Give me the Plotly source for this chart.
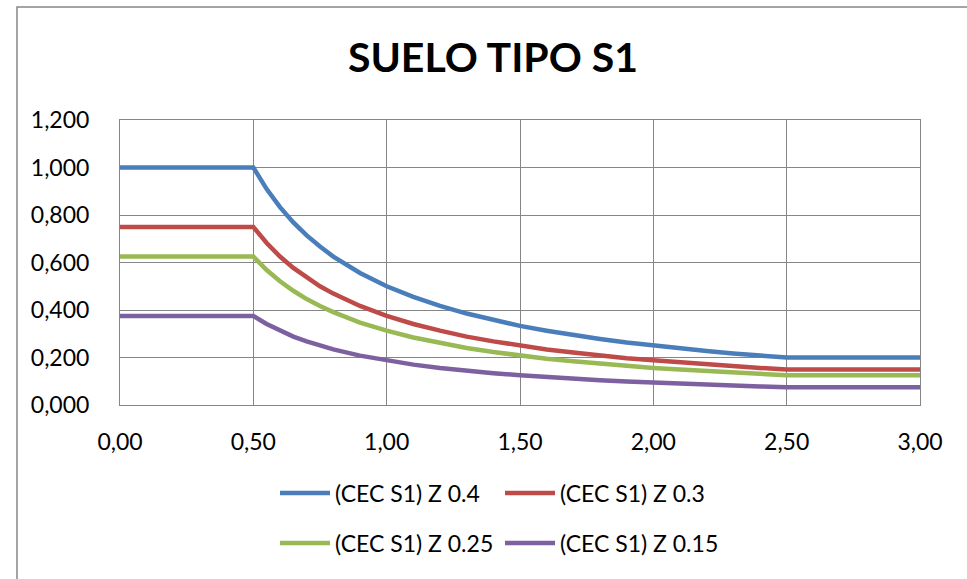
import plotly.graph_objects as go

# Periods T (s)
T = [0.00, 0.50, 0.55, 0.60, 0.65, 0.70, 0.75, 0.80, 0.90, 1.00, 1.10, 1.20, 1.30,
     1.40, 1.50, 1.60, 1.70, 1.80, 1.90, 2.00, 2.10, 2.20, 2.30, 2.40, 2.50, 3.00]

z040 = [1.000, 1.000, 0.909, 0.833, 0.769, 0.714, 0.667, 0.625, 0.556, 0.500, 0.455, 0.417, 0.385,
        0.357, 0.333, 0.313, 0.294, 0.278, 0.263, 0.250, 0.238, 0.227, 0.217, 0.208, 0.200, 0.200]
z030 = [0.750, 0.750, 0.682, 0.625, 0.577, 0.536, 0.500, 0.469, 0.417, 0.375, 0.341, 0.313, 0.288,
        0.268, 0.250, 0.234, 0.221, 0.208, 0.197, 0.188, 0.179, 0.170, 0.163, 0.156, 0.150, 0.150]
z025 = [0.625, 0.625, 0.568, 0.521, 0.481, 0.446, 0.417, 0.391, 0.347, 0.313, 0.284, 0.260, 0.240,
        0.223, 0.208, 0.195, 0.184, 0.174, 0.164, 0.156, 0.149, 0.142, 0.136, 0.130, 0.125, 0.125]
z015 = [0.375, 0.375, 0.341, 0.313, 0.288, 0.268, 0.250, 0.234, 0.208, 0.188, 0.170, 0.156, 0.144,
        0.134, 0.125, 0.117, 0.110, 0.104, 0.099, 0.094, 0.089, 0.085, 0.082, 0.078, 0.075, 0.075]

names = ["(CEC S1) Z 0.4", "(CEC S1) Z 0.3", "(CEC S1) Z 0.25", "(CEC S1) Z 0.15"]
series = [z040, z030, z025, z015]
colors = ["#4A7EBB", "#BE4B48", "#98B954", "#7D60A0"]
legends = ["legend", "legend", "legend2", "legend2"]

x_ticks = [0, 0.5, 1.0, 1.5, 2.0, 2.5, 3.0]
y_ticks = [0, 0.2, 0.4, 0.6, 0.8, 1.0, 1.2]

FONT = "Lato"

fig = go.Figure()
for n, s, c, lg in zip(names, series, colors, legends):
    fig.add_trace(go.Scatter(x=T, y=s, mode="lines", name=n,
                             line=dict(color=c, width=4.5), legend=lg))

W, H = 967, 579
L, R, TOP, B = 120, 47, 120, 174
pw = W - L - R
ph = H - TOP - B

def px_x(px):
    return (px - L) / pw

def px_y(py):
    return (H - B - py) / ph

leg_common = dict(orientation="h", xanchor="left", yanchor="middle",
                  bgcolor="rgba(0,0,0,0)", font=dict(family=FONT, size=23),
                  itemwidth=50, entrywidth=160, entrywidthmode="pixels",
                  tracegroupgap=0)

fig.update_layout(
    width=W, height=H, autosize=False,
    margin=dict(l=L, r=R, t=TOP, b=B),
    paper_bgcolor="white", plot_bgcolor="white",
    separators=",.",
    font=dict(family=FONT, color="#000000", size=23),
    title=dict(text="<b>SUELO TIPO S1</b>", x=493 / W, xanchor="center",
               y=1 - 58 / H, yanchor="middle",
               font=dict(family=FONT, size=41, color="#000000")),
    xaxis=dict(range=[0, 3], tickvals=x_ticks, tickformat=".2f",
               showgrid=True, gridcolor="#868686", gridwidth=1,
               showline=True, linecolor="#868686", linewidth=1, mirror=True,
               zeroline=False, ticks="", ticklabelstandoff=16,
               tickfont=dict(family=FONT, size=23)),
    yaxis=dict(range=[0, 1.2], tickvals=y_ticks, tickformat=".3f",
               showgrid=True, gridcolor="#868686", gridwidth=1,
               showline=True, linecolor="#868686", linewidth=1, mirror=True,
               zeroline=False, ticks="", ticklabelstandoff=25,
               tickfont=dict(family=FONT, size=23)),
    legend=dict(x=px_x(275), y=px_y(493), **leg_common),
    legend2=dict(x=px_x(275), y=px_y(543), **leg_common),
    shapes=[dict(type="rect", xref="paper", yref="paper",
                 x0=px_x(17), x1=px_x(1100), y0=px_y(7), y1=px_y(700),
                 line=dict(color="#868686", width=1.5), fillcolor="rgba(0,0,0,0)",
                 layer="below")],
)

fig.write_html("out.html", config={"displayModeBar": False},
               post_script="document.body.style.margin='0';")
